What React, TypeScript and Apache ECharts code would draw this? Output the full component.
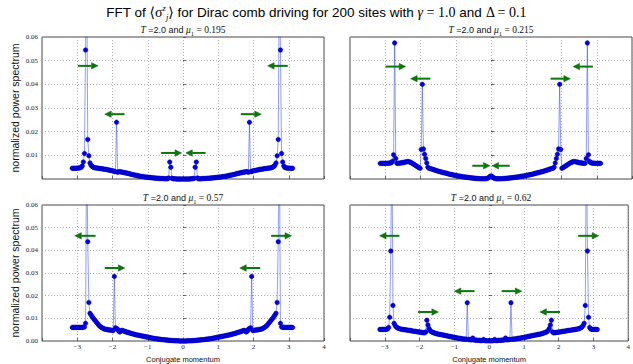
import React, { useEffect, useRef } from "react";
import * as echarts from "echarts";

// ---------- data ----------
const N_SITES = 200;
// FFT momentum grid k_n = -pi + 2 pi n / N
const momentum: number[] = Array.from({ length: N_SITES }, (_, n) => -Math.PI + (2 * Math.PI * n) / N_SITES);

const periodT = "2.0";
const mu1Values = ["0.195", "0.215", "0.57", "0.62"];

const power_mu0195 = [
  0.0045, 0.0045, 0.0045, 0.0045, 0.0045, 0.0046, 0.0046, 0.0047, 0.0049, 0.0055,
  0.0072, 0.0108, 0.0545, 0.0900, 0.0167, 0.0098, 0.0068, 0.0058, 0.0053, 0.0050,
  0.0048, 0.0047, 0.0046, 0.0046, 0.0045, 0.0044, 0.0044, 0.0043, 0.0042, 0.0041,
  0.0041, 0.0040, 0.0039, 0.0038, 0.0037, 0.0036, 0.0035, 0.0034, 0.0032, 0.0031,
  0.0240, 0.0028, 0.0031, 0.0031, 0.0030, 0.0029, 0.0028, 0.0027, 0.0026, 0.0025,
  0.0024, 0.0023, 0.0022, 0.0020, 0.0019, 0.0018, 0.0017, 0.0016, 0.0015, 0.0014,
  0.0013, 0.0012, 0.0011, 0.0011, 0.0010, 0.0009, 0.0008, 0.0008, 0.0007, 0.0007,
  0.0006, 0.0006, 0.0005, 0.0005, 0.0004, 0.0004, 0.0003, 0.0003, 0.0003, 0.0002,
  0.0002, 0.0002, 0.0002, 0.0001, 0.0001, 0.0001, 0.0001, 0.0004, 0.0072, 0.0050,
  0.0003, 0.0001, 0.0001, 0.0001, 0.0000, 0.0000, 0.0000, 0.0000, 0.0000, 0.0000,
  0.0000, 0.0000, 0.0000, 0.0000, 0.0000, 0.0000, 0.0000, 0.0001, 0.0001, 0.0001,
  0.0003, 0.0050, 0.0072, 0.0004, 0.0001, 0.0001, 0.0001, 0.0001, 0.0002, 0.0002,
  0.0002, 0.0002, 0.0003, 0.0003, 0.0003, 0.0004, 0.0004, 0.0005, 0.0005, 0.0006,
  0.0006, 0.0007, 0.0007, 0.0008, 0.0008, 0.0009, 0.0010, 0.0011, 0.0011, 0.0012,
  0.0013, 0.0014, 0.0015, 0.0016, 0.0017, 0.0018, 0.0019, 0.0020, 0.0022, 0.0023,
  0.0024, 0.0025, 0.0026, 0.0027, 0.0028, 0.0029, 0.0030, 0.0031, 0.0031, 0.0028,
  0.0240, 0.0031, 0.0032, 0.0034, 0.0035, 0.0036, 0.0037, 0.0038, 0.0039, 0.0040,
  0.0041, 0.0041, 0.0042, 0.0043, 0.0044, 0.0044, 0.0045, 0.0046, 0.0046, 0.0047,
  0.0048, 0.0050, 0.0053, 0.0058, 0.0068, 0.0098, 0.0167, 0.0900, 0.0545, 0.0108,
  0.0072, 0.0055, 0.0049, 0.0047, 0.0046, 0.0046, 0.0045, 0.0045, 0.0045, 0.0045,
];

const power_mu0215 = [
  0.0066, 0.0066, 0.0066, 0.0066, 0.0066, 0.0066, 0.0066, 0.0067, 0.0067, 0.0068,
  0.0069, 0.0075, 0.0102, 0.0575, 0.0087, 0.0067, 0.0066, 0.0067, 0.0068, 0.0068,
  0.0069, 0.0070, 0.0071, 0.0072, 0.0073, 0.0074, 0.0073, 0.0071, 0.0069, 0.0066,
  0.0063, 0.0060, 0.0057, 0.0054, 0.0051, 0.0048, 0.0045, 0.0125, 0.0400, 0.0127,
  0.0105, 0.0087, 0.0068, 0.0050, 0.0045, 0.0044, 0.0043, 0.0041, 0.0040, 0.0038,
  0.0037, 0.0035, 0.0034, 0.0032, 0.0031, 0.0030, 0.0028, 0.0027, 0.0026, 0.0025,
  0.0024, 0.0022, 0.0021, 0.0020, 0.0019, 0.0018, 0.0017, 0.0016, 0.0015, 0.0014,
  0.0013, 0.0012, 0.0012, 0.0011, 0.0010, 0.0009, 0.0008, 0.0008, 0.0007, 0.0007,
  0.0006, 0.0005, 0.0005, 0.0004, 0.0004, 0.0003, 0.0003, 0.0002, 0.0002, 0.0002,
  0.0001, 0.0001, 0.0001, 0.0001, 0.0001, 0.0001, 0.0002, 0.0003, 0.0006, 0.0011,
  0.0013, 0.0011, 0.0006, 0.0003, 0.0002, 0.0001, 0.0001, 0.0001, 0.0001, 0.0001,
  0.0001, 0.0002, 0.0002, 0.0002, 0.0003, 0.0003, 0.0004, 0.0004, 0.0005, 0.0005,
  0.0006, 0.0007, 0.0007, 0.0008, 0.0008, 0.0009, 0.0010, 0.0011, 0.0012, 0.0012,
  0.0013, 0.0014, 0.0015, 0.0016, 0.0017, 0.0018, 0.0019, 0.0020, 0.0021, 0.0022,
  0.0024, 0.0025, 0.0026, 0.0027, 0.0028, 0.0030, 0.0031, 0.0032, 0.0034, 0.0035,
  0.0037, 0.0038, 0.0040, 0.0041, 0.0043, 0.0044, 0.0045, 0.0050, 0.0068, 0.0087,
  0.0105, 0.0127, 0.0400, 0.0125, 0.0045, 0.0048, 0.0051, 0.0054, 0.0057, 0.0060,
  0.0063, 0.0066, 0.0069, 0.0071, 0.0073, 0.0074, 0.0073, 0.0072, 0.0071, 0.0070,
  0.0069, 0.0068, 0.0068, 0.0067, 0.0066, 0.0067, 0.0087, 0.0575, 0.0102, 0.0075,
  0.0069, 0.0068, 0.0067, 0.0067, 0.0066, 0.0066, 0.0066, 0.0066, 0.0066, 0.0066,
];

const power_mu057 = [
  0.0060, 0.0060, 0.0060, 0.0060, 0.0060, 0.0060, 0.0060, 0.0060, 0.0060, 0.0060,
  0.0061, 0.0062, 0.0078, 0.0900, 0.0438, 0.0170, 0.0122, 0.0115, 0.0107, 0.0100,
  0.0094, 0.0088, 0.0082, 0.0076, 0.0070, 0.0065, 0.0061, 0.0058, 0.0055, 0.0053,
  0.0052, 0.0051, 0.0050, 0.0049, 0.0049, 0.0048, 0.0047, 0.0046, 0.0285, 0.0058,
  0.0055, 0.0052, 0.0043, 0.0040, 0.0045, 0.0047, 0.0045, 0.0043, 0.0041, 0.0040,
  0.0038, 0.0037, 0.0035, 0.0034, 0.0032, 0.0031, 0.0030, 0.0028, 0.0027, 0.0026,
  0.0025, 0.0024, 0.0023, 0.0022, 0.0021, 0.0020, 0.0019, 0.0018, 0.0017, 0.0016,
  0.0015, 0.0014, 0.0013, 0.0012, 0.0011, 0.0010, 0.0010, 0.0009, 0.0008, 0.0008,
  0.0007, 0.0006, 0.0006, 0.0005, 0.0005, 0.0004, 0.0004, 0.0003, 0.0003, 0.0002,
  0.0002, 0.0002, 0.0001, 0.0001, 0.0001, 0.0001, 0.0001, 0.0000, 0.0000, 0.0000,
  0.0000, 0.0000, 0.0000, 0.0000, 0.0001, 0.0001, 0.0001, 0.0001, 0.0001, 0.0002,
  0.0002, 0.0002, 0.0003, 0.0003, 0.0004, 0.0004, 0.0005, 0.0005, 0.0006, 0.0006,
  0.0007, 0.0008, 0.0008, 0.0009, 0.0010, 0.0010, 0.0011, 0.0012, 0.0013, 0.0014,
  0.0015, 0.0016, 0.0017, 0.0018, 0.0019, 0.0020, 0.0021, 0.0022, 0.0023, 0.0024,
  0.0025, 0.0026, 0.0027, 0.0028, 0.0030, 0.0031, 0.0032, 0.0034, 0.0035, 0.0037,
  0.0038, 0.0040, 0.0041, 0.0043, 0.0045, 0.0047, 0.0045, 0.0040, 0.0043, 0.0052,
  0.0055, 0.0058, 0.0285, 0.0046, 0.0047, 0.0048, 0.0049, 0.0049, 0.0050, 0.0051,
  0.0052, 0.0053, 0.0055, 0.0058, 0.0061, 0.0065, 0.0070, 0.0076, 0.0082, 0.0088,
  0.0094, 0.0100, 0.0107, 0.0115, 0.0122, 0.0170, 0.0438, 0.0900, 0.0078, 0.0062,
  0.0061, 0.0060, 0.0060, 0.0060, 0.0060, 0.0060, 0.0060, 0.0060, 0.0060, 0.0060,
];

const power_mu062 = [
  0.0051, 0.0051, 0.0051, 0.0051, 0.0051, 0.0051, 0.0052, 0.0053, 0.0060, 0.0105,
  0.0397, 0.0900, 0.0157, 0.0078, 0.0068, 0.0062, 0.0058, 0.0056, 0.0054, 0.0053,
  0.0052, 0.0051, 0.0050, 0.0050, 0.0049, 0.0048, 0.0047, 0.0047, 0.0046, 0.0045,
  0.0044, 0.0043, 0.0043, 0.0042, 0.0041, 0.0040, 0.0040, 0.0039, 0.0038, 0.0037,
  0.0037, 0.0036, 0.0040, 0.0092, 0.0071, 0.0055, 0.0046, 0.0041, 0.0039, 0.0037,
  0.0035, 0.0034, 0.0032, 0.0031, 0.0030, 0.0029, 0.0028, 0.0027, 0.0026, 0.0025,
  0.0024, 0.0023, 0.0022, 0.0021, 0.0020, 0.0019, 0.0018, 0.0017, 0.0016, 0.0015,
  0.0014, 0.0013, 0.0012, 0.0012, 0.0011, 0.0010, 0.0009, 0.0009, 0.0008, 0.0008,
  0.0169, 0.0007, 0.0006, 0.0006, 0.0005, 0.0013, 0.0005, 0.0004, 0.0004, 0.0003,
  0.0003, 0.0003, 0.0002, 0.0002, 0.0002, 0.0007, 0.0002, 0.0001, 0.0001, 0.0001,
  0.0001, 0.0001, 0.0001, 0.0001, 0.0002, 0.0007, 0.0002, 0.0002, 0.0002, 0.0003,
  0.0003, 0.0003, 0.0004, 0.0004, 0.0005, 0.0013, 0.0005, 0.0006, 0.0006, 0.0007,
  0.0169, 0.0008, 0.0008, 0.0009, 0.0009, 0.0010, 0.0011, 0.0012, 0.0012, 0.0013,
  0.0014, 0.0015, 0.0016, 0.0017, 0.0018, 0.0019, 0.0020, 0.0021, 0.0022, 0.0023,
  0.0024, 0.0025, 0.0026, 0.0027, 0.0028, 0.0029, 0.0030, 0.0031, 0.0032, 0.0034,
  0.0035, 0.0037, 0.0039, 0.0041, 0.0046, 0.0055, 0.0071, 0.0092, 0.0040, 0.0036,
  0.0037, 0.0037, 0.0038, 0.0039, 0.0040, 0.0040, 0.0041, 0.0042, 0.0043, 0.0043,
  0.0044, 0.0045, 0.0046, 0.0047, 0.0047, 0.0048, 0.0049, 0.0050, 0.0050, 0.0051,
  0.0052, 0.0053, 0.0054, 0.0056, 0.0058, 0.0062, 0.0068, 0.0078, 0.0157, 0.0900,
  0.0397, 0.0105, 0.0060, 0.0053, 0.0052, 0.0051, 0.0051, 0.0051, 0.0051, 0.0051,
];

// green arrows: tail momentum, tip momentum, height
const arrowTail_mu0195 = [-2.98, -1.66, -0.62, 0.64, 1.64, 2.97];
const arrowTip_mu0195 = [-2.41, -2.22, -0.04, 0.08, 2.22, 2.40];
const arrowY_mu0195 = [0.0478, 0.0274, 0.011, 0.011, 0.0274, 0.0478];

const arrowTail_mu0215 = [-2.99, -1.72, -0.53, 0.53, 1.69, 2.89];
const arrowTip_mu0215 = [-2.42, -2.28, -0.03, 0.03, 2.25, 2.33];
const arrowY_mu0215 = [0.0475, 0.0424, 0.0056, 0.0056, 0.0424, 0.0475];

const arrowTail_mu057 = [-2.48, -2.22, 2.19, 2.5];
const arrowTip_mu057 = [-3.07, -1.65, 1.61, 3.08];
const arrowY_mu057 = [0.0464, 0.0322, 0.0322, 0.0464];

const arrowTail_mu062 = [-2.58, -2.04, -0.42, 0.36, 2.04, 2.56];
const arrowTip_mu062 = [-3.15, -1.46, -1.0, 0.94, 1.46, 3.15];
const arrowY_mu062 = [0.0464, 0.0128, 0.022, 0.022, 0.0128, 0.0464];

const xMin = -4;
const xMax = 4;
const yMin = 0;
const yMax = 0.06;
const yStep = 0.01;

// ---------- layout / style ----------
const SANS = "'Liberation Sans', Arial, sans-serif";
const SERIF = "'Liberation Serif', 'DejaVu Serif', serif";

const gridBoxes = [
  { left: 42, top: 37, width: 282, height: 142 },
  { left: 350, top: 37, width: 282, height: 142 },
  { left: 42, top: 205, width: 282, height: 141 },
  { left: 350, top: 205, width: 282, height: 141 },
];

const panels = [
  { values: power_mu0195, tails: arrowTail_mu0195, tips: arrowTip_mu0195, ys: arrowY_mu0195, mu: mu1Values[0] },
  { values: power_mu0215, tails: arrowTail_mu0215, tips: arrowTip_mu0215, ys: arrowY_mu0215, mu: mu1Values[1] },
  { values: power_mu057, tails: arrowTail_mu057, tips: arrowTip_mu057, ys: arrowY_mu057, mu: mu1Values[2] },
  { values: power_mu062, tails: arrowTail_mu062, tips: arrowTip_mu062, ys: arrowY_mu062, mu: mu1Values[3] },
];

const ARROW_GREEN = "#087a08";

function buildOption() {
  const grid: any[] = [];
  const xAxis: any[] = [];
  const yAxis: any[] = [];
  const series: any[] = [];
  const graphic: any[] = [];

  const gridLine = { show: true, lineStyle: { type: [1, 2], color: "#9a9a9a", width: 0.8 } };
  const tick = { show: true, inside: true, length: 3, lineStyle: { color: "#444", width: 0.8 } };

  panels.forEach((p, i) => {
    const box = gridBoxes[i];
    const isBottom = i >= 2;
    const isLeft = i % 2 === 0;
    const isTop = i < 2;
    grid.push({
      ...box,
      show: true,
      borderColor: "#4a4a4a",
      borderWidth: 1,
      backgroundColor: "transparent",
      containLabel: false,
    });
    xAxis.push({
      gridIndex: i,
      type: "value",
      min: xMin,
      max: xMax,
      interval: 1,
      axisLine: { show: false },
      axisTick: tick,
      splitLine: gridLine,
      axisLabel: {
        show: isBottom,
        fontFamily: SERIF,
        fontSize: 7,
        color: "#222222",
        margin: 2,
        formatter: (v: number) => (v === xMin ? "" : v < 0 ? "\u2212" + Math.abs(v) : String(v)),
      },
      name: isBottom ? "Conjugate momentum" : "",
      nameLocation: "middle",
      nameGap: 14,
      nameTextStyle: { fontFamily: SANS, fontSize: 7.5, color: "#111111" },
    });
    yAxis.push({
      gridIndex: i,
      type: "value",
      min: yMin,
      max: yMax,
      interval: yStep,
      axisLine: { show: false },
      axisTick: tick,
      splitLine: gridLine,
      axisLabel: {
        show: isLeft,
        fontFamily: SERIF,
        fontSize: 7,
        color: "#222222",
        margin: 4,
        formatter: (v: number) => (isTop && Math.abs(v) < 1e-9 ? "" : v.toFixed(2)),
      },
      name: isLeft ? "normalized power spectrum" : "",
      nameLocation: "middle",
      nameGap: 22,
      nameTextStyle: { fontFamily: SANS, fontSize: 10.5, color: "#111111" },
    });
    series.push({
      type: "line",
      xAxisIndex: i,
      yAxisIndex: i,
      data: momentum.map((k, n) => [k, p.values[n]]),
      symbol: "circle",
      symbolSize: 4.6,
      showSymbol: true,
      clip: true,
      silent: true,
      z: 3,
      lineStyle: { color: "rgba(40,60,255,0.5)", width: 1 },
      itemStyle: { color: "#0000f0", borderColor: "#00009a", borderWidth: 0.4 },
      emphasis: { disabled: true },
    });
    series.push({
      type: "custom",
      xAxisIndex: i,
      yAxisIndex: i,
      coordinateSystem: "cartesian2d",
      silent: true,
      clip: false,
      z: 10,
      data: p.tails.map((t, j) => [t, p.tips[j], p.ys[j]]),
      encode: { x: [0, 1], y: 2 },
      renderItem: (_params: any, api: any) => {
        const tail = api.coord([api.value(0), api.value(2)]);
        const tip = api.coord([api.value(1), api.value(2)]);
        const dir = tip[0] >= tail[0] ? 1 : -1;
        const headLen = 6.5;
        const headHalf = 3.2;
        const base = tip[0] - dir * headLen;
        return {
          type: "group",
          children: [
            {
              type: "line",
              shape: { x1: tail[0], y1: tail[1], x2: base, y2: tip[1] },
              style: { stroke: ARROW_GREEN, lineWidth: 2 },
            },
            {
              type: "polygon",
              shape: {
                points: [
                  [tip[0], tip[1]],
                  [base, tip[1] - headHalf],
                  [base, tip[1] + headHalf],
                ],
              },
              style: { fill: ARROW_GREEN, stroke: "#0a5a0a", lineWidth: 0.5 },
            },
          ],
        };
      },
    });

    graphic.push({
      type: "text",
      x: box.left + box.width / 2,
      y: box.top - 7,
      silent: true,
      style: {
        text: `{it|T}{a| =${periodT} and }{it|\u03bc}{s|1}{n| = ${p.mu}}`,
        align: "center",
        verticalAlign: "middle",
        rich: {
          it: { fontFamily: SERIF, fontStyle: "italic", fontSize: 9.5, fill: "#111" },
          a: { fontFamily: SANS, fontSize: 9, fill: "#111" },
          n: { fontFamily: SERIF, fontSize: 9.5, fill: "#111" },
          s: { fontFamily: SERIF, fontSize: 6.5, fill: "#111", verticalAlign: "bottom", lineHeight: 14 },
        },
      },
    });
  });

  graphic.push({
    type: "text",
    x: 316.5,
    y: 12,
    silent: true,
    style: {
      text:
        "{a|FFT of }{m|\u27e8\u03c3}{sup|z}{sub|j}{m|\u27e9}{a| for Dirac comb driving for 200 sites with }{it|\u03b3}{m| = 1.0}{a| and }{m|\u0394 = 0.1}",
      align: "center",
      verticalAlign: "middle",
      rich: {
        a: { fontFamily: SANS, fontSize: 13.5, fill: "#000" },
        m: { fontFamily: SERIF, fontSize: 14, fill: "#000" },
        it: { fontFamily: SERIF, fontStyle: "italic", fontSize: 14, fill: "#000" },
        sup: { fontFamily: SERIF, fontStyle: "italic", fontSize: 8.5, fill: "#000", verticalAlign: "top", lineHeight: 18 },
        sub: { fontFamily: SERIF, fontStyle: "italic", fontSize: 8.5, fill: "#000", verticalAlign: "bottom", lineHeight: 18 },
      },
    },
  });

  return {
    animation: false,
    backgroundColor: "#ffffff",
    textStyle: { fontFamily: SANS },
    grid,
    xAxis,
    yAxis,
    series,
    graphic,
  };
}

export default function App() {
  const ref = useRef<HTMLDivElement>(null);
  useEffect(() => {
    if (!ref.current) return;
    const chart = echarts.init(ref.current, undefined, { renderer: "svg" });
    chart.setOption(buildOption() as any);
    return () => chart.dispose();
  }, []);
  return (
    <div
      ref={ref}
      style={{ position: "fixed", left: 0, top: 0, width: 633, height: 364, background: "#fff" }}
    />
  );
}
